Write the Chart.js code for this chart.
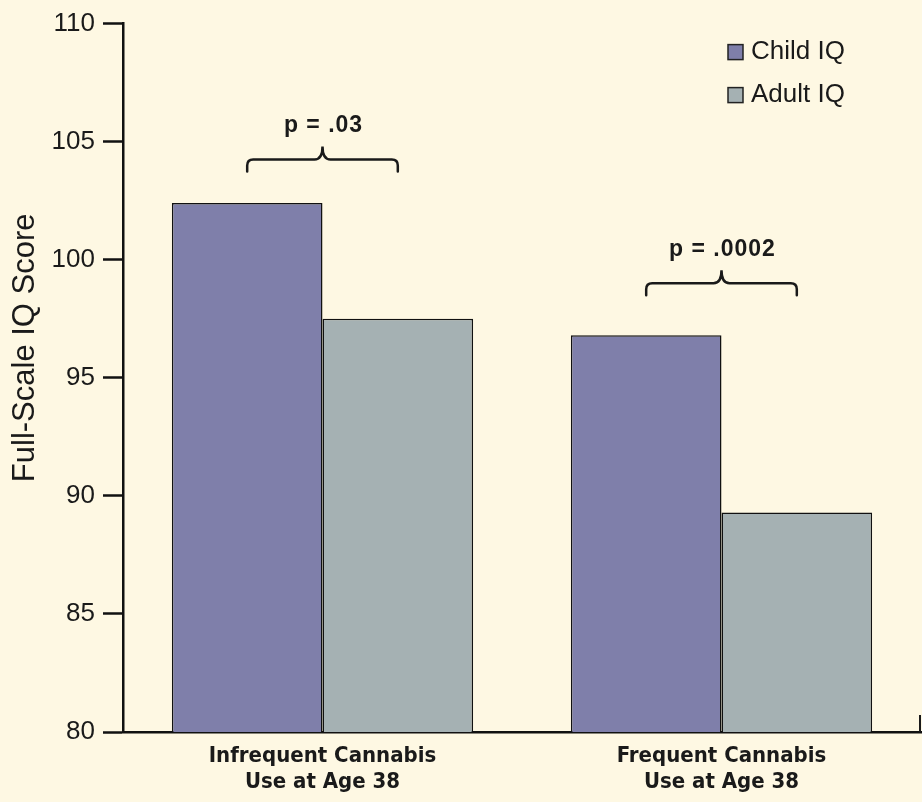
<!DOCTYPE html>
<html>
<head>
<meta charset="utf-8">
<script src="https://cdn.jsdelivr.net/npm/chart.js@4/dist/chart.umd.min.js"></script>
<style>
  html, body { margin: 0; padding: 0; background: #fef8e3; }
  #wrap { position: relative; width: 922px; height: 802px; }
</style>
</head>
<body>
<div id="wrap"><canvas id="chart" width="922" height="802"></canvas></div>
<script>
// data
const categories = [['Infrequent Cannabis', 'Use at Age 38'], ['Frequent Cannabis', 'Use at Age 38']];
const childIQ = [102.4, 96.8];
const adultIQ = [97.5, 89.3];
const seriesNames = ['Child IQ', 'Adult IQ'];
const seriesColors = ['#7f7faa', '#a5b1b3'];
const yTicks = [80, 85, 90, 95, 100, 105, 110];
const yTitle = 'Full-Scale IQ Score';
const pLabels = ['p = .03', 'p = .0002'];
const bracketLevels = [104.25, 99.0];

// brackets + p values + legend + y title + right end tick
const extras = {
    id: 'extras',
    afterDatasetsDraw(chart) {
        const ctx = chart.ctx;
        const y = chart.scales.y;
        const area = chart.chartArea;
        const m0 = chart.getDatasetMeta(0);
        const m1 = chart.getDatasetMeta(1);

        ctx.save();
        ctx.strokeStyle = '#1a1a1a';
        ctx.lineWidth = 2.5;
        ctx.lineCap = 'round';
        for (let i = 0; i < pLabels.length; i++) {
            const x1 = m0.data[i].x;
            const x2 = m1.data[i].x;
            const xm = (x1 + x2) / 2;
            const yb = y.getPixelForValue(bracketLevels[i]);
            const r = 6;
            ctx.beginPath();
            ctx.moveTo(x1, yb + 12);
            ctx.lineTo(x1, yb + r);
            ctx.quadraticCurveTo(x1, yb, x1 + r, yb);
            ctx.lineTo(xm - 8, yb);
            ctx.quadraticCurveTo(xm, yb, xm, yb - 13);
            ctx.quadraticCurveTo(xm, yb, xm + 8, yb);
            ctx.lineTo(x2 - r, yb);
            ctx.quadraticCurveTo(x2, yb, x2, yb + r);
            ctx.lineTo(x2, yb + 12);
            ctx.stroke();

            ctx.fillStyle = '#1a1a1a';
            ctx.font = 'bold 23px "Liberation Sans", Arial, sans-serif';
            ctx.letterSpacing = '1px';
            ctx.textAlign = 'center';
            ctx.textBaseline = 'middle';
            ctx.fillText(pLabels[i], xm + 1, yb - 34);
            ctx.letterSpacing = '0px';
        }

        // small tick at right end of x axis
        ctx.lineWidth = 2;
        ctx.lineCap = 'butt';
        ctx.beginPath();
        ctx.moveTo(area.right - 1, area.bottom);
        ctx.lineTo(area.right - 1, area.bottom - 17);
        ctx.stroke();

        // legend
        ctx.font = '26px "Liberation Sans", Arial, sans-serif';
        ctx.textAlign = 'left';
        ctx.textBaseline = 'middle';
        for (let i = 0; i < seriesNames.length; i++) {
            const ly = area.top + 28.5 + i * 43;
            ctx.fillStyle = seriesColors[i];
            ctx.fillRect(728, ly - 7.5, 15, 15);
            ctx.lineWidth = 1.5;
            ctx.strokeStyle = '#222';
            ctx.strokeRect(728, ly - 7.5, 15, 15);
            ctx.fillStyle = '#1a1a1a';
            ctx.fillText(seriesNames[i], 751, ly);
        }

        // y axis title
        ctx.translate(25, (area.top + area.bottom) / 2 - 30);
        ctx.rotate(-Math.PI / 2);
        ctx.textAlign = 'center';
        ctx.font = '31px "Liberation Sans", Arial, sans-serif';
        ctx.fillText(yTitle, 0, 0);
        ctx.restore();
    }
};

new Chart(document.getElementById('chart'), {
    type: 'bar',
    data: {
        labels: categories,
        datasets: [
            { label: seriesNames[0], data: childIQ, backgroundColor: seriesColors[0], borderColor: '#111', borderWidth: 1.5 },
            { label: seriesNames[1], data: adultIQ, backgroundColor: seriesColors[1], borderColor: '#111', borderWidth: 1.5 }
        ]
    },
    options: {
        responsive: false,
        animation: false,
        layout: { padding: { top: 22, right: 1, left: 0, bottom: 0 } },
        datasets: { bar: { categoryPercentage: 0.755, barPercentage: 1.0 } },
        plugins: {
            legend: { display: false },
            tooltip: { enabled: false }
        },
        scales: {
            x: {
                grid: { display: false, drawTicks: false },
                border: { display: true, color: '#111', width: 2.5 },
                ticks: {
                    color: '#1a1a1a',
                    padding: 11,
                    font: { family: '"DejaVu Sans Condensed", "Liberation Sans", Arial', size: 22, weight: 'bold', lineHeight: 1.2 }
                },
                afterFit(scale) { scale.height = 70; }
            },
            y: {
                min: 80,
                max: 110,
                afterBuildTicks(scale) { scale.ticks = yTicks.map(v => ({ value: v })); },
                grid: { drawOnChartArea: false, tickLength: 20, tickWidth: 2.5, tickColor: '#111' },
                border: { display: true, color: '#111', width: 2.5 },
                ticks: {
                    color: '#1a1a1a',
                    padding: 8,
                    font: { family: '"Liberation Sans", Arial', size: 26 }
                },
                afterFit(scale) { scale.width = 123; }
            }
        }
    },
    plugins: [extras]
});
</script>
</body>
</html>
